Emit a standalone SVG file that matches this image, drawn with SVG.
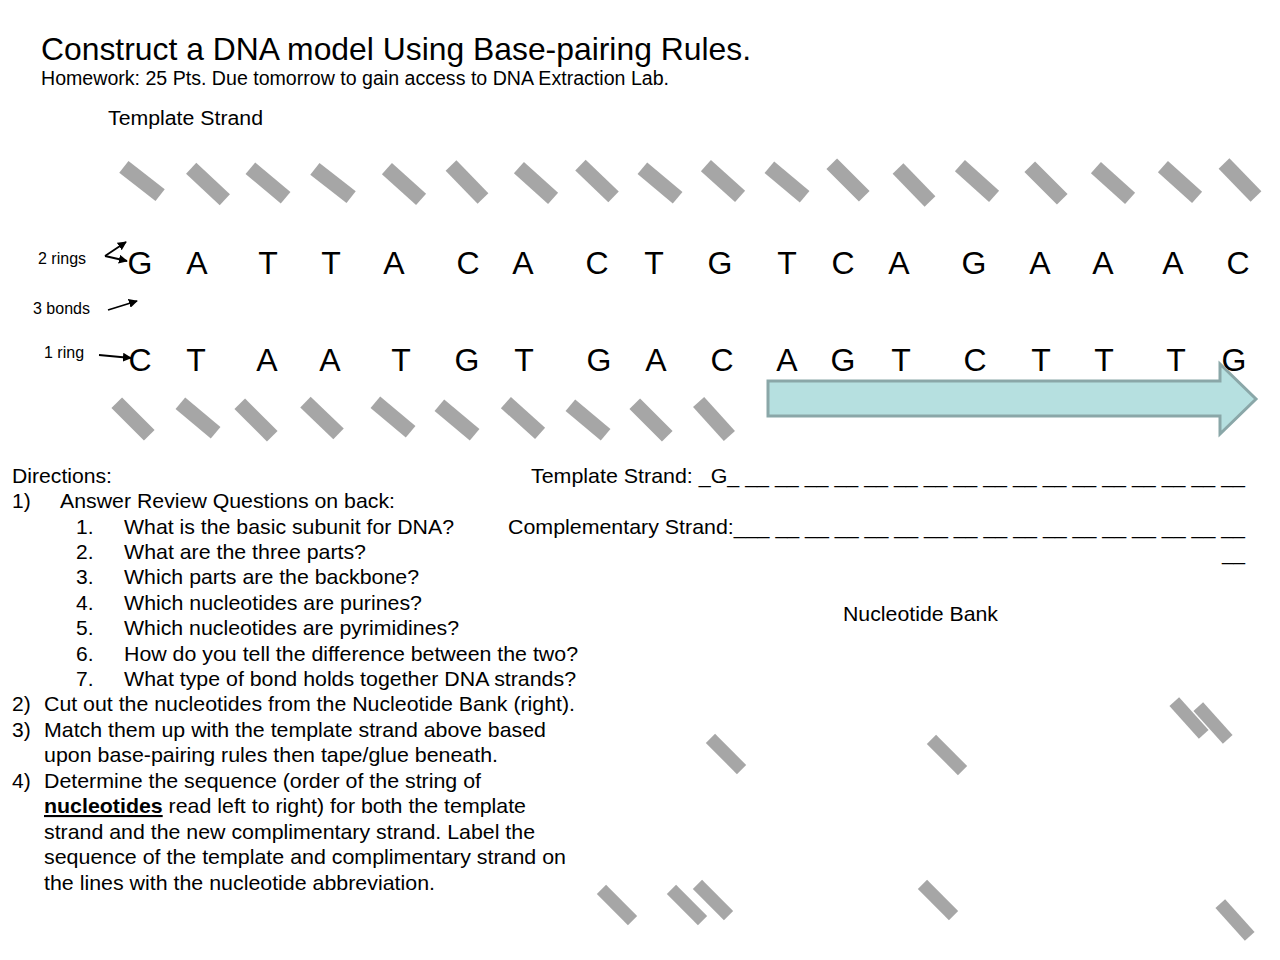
<svg xmlns="http://www.w3.org/2000/svg" width="1280" height="960" viewBox="0 0 1280 960">
<style>
text{font-family:"Liberation Sans",Arial,sans-serif;fill:#000}
.t{font-size:32px}
.s{font-size:20px}
.d{font-size:21px}
.b{font-size:32px}
.l{font-size:16px}
.bar{fill:#a6a6a6}
.ln{stroke:#000;stroke-width:1.8;fill:none}
</style>
<defs>
<rect id="bar" class="bar" x="-23" y="-7.5" width="46" height="15"/>
<rect id="bbar" class="bar" x="-22" y="-6.5" width="44" height="13"/>
<marker id="ah" viewBox="0 0 10 10" refX="9" refY="5" markerWidth="5" markerHeight="5" orient="auto" markerUnits="strokeWidth">
<path d="M0,0 L10,5 L0,10 Z" fill="#000"/>
</marker>
</defs>
<rect width="1280" height="960" fill="#fff"/>

<g id="title">
<text class="t" x="41" y="60" textLength="710" lengthAdjust="spacingAndGlyphs">Construct a DNA model Using Base-pairing Rules.</text>
<text class="s" x="41" y="85" textLength="628" lengthAdjust="spacingAndGlyphs">Homework: 25 Pts. Due tomorrow to gain access to DNA Extraction Lab.</text>
<text class="s" x="108" y="125" textLength="155" lengthAdjust="spacingAndGlyphs">Template Strand</text>
</g>

<g id="top-backbone">
<use href="#bar" transform="translate(142,181) rotate(38)"/>
<use href="#bar" transform="translate(208,184) rotate(43)"/>
<use href="#bar" transform="translate(268,183) rotate(40)"/>
<use href="#bar" transform="translate(333,183) rotate(38)"/>
<use href="#bar" transform="translate(404,184) rotate(42)"/>
<use href="#bar" transform="translate(467,182) rotate(46)"/>
<use href="#bar" transform="translate(536,183) rotate(42)"/>
<use href="#bar" transform="translate(597,181) rotate(44)"/>
<use href="#bar" transform="translate(660,183) rotate(40)"/>
<use href="#bar" transform="translate(723,181) rotate(42)"/>
<use href="#bar" transform="translate(787,182) rotate(40)"/>
<use href="#bar" transform="translate(848,180) rotate(45)"/>
<use href="#bar" transform="translate(914,185) rotate(46)"/>
<use href="#bar" transform="translate(977,181) rotate(42)"/>
<use href="#bar" transform="translate(1046,183) rotate(45)"/>
<use href="#bar" transform="translate(1113,183) rotate(42)"/>
<use href="#bar" transform="translate(1180,182) rotate(42)"/>
<use href="#bar" transform="translate(1240,180) rotate(46)"/>
</g>

<g id="template-bases" text-anchor="middle">
<text class="b" x="140" y="274">G</text>
<text class="b" x="197" y="274">A</text>
<text class="b" x="268" y="274">T</text>
<text class="b" x="331" y="274">T</text>
<text class="b" x="394" y="274">A</text>
<text class="b" x="468" y="274">C</text>
<text class="b" x="523" y="274">A</text>
<text class="b" x="597" y="274">C</text>
<text class="b" x="654" y="274">T</text>
<text class="b" x="720" y="274">G</text>
<text class="b" x="787" y="274">T</text>
<text class="b" x="843" y="274">C</text>
<text class="b" x="899" y="274">A</text>
<text class="b" x="974" y="274">G</text>
<text class="b" x="1040" y="274">A</text>
<text class="b" x="1103" y="274">A</text>
<text class="b" x="1173" y="274">A</text>
<text class="b" x="1238" y="274">C</text>
</g>

<g id="complement-bases" text-anchor="middle">
<text class="b" x="140" y="371">C</text>
<text class="b" x="196" y="371">T</text>
<text class="b" x="267" y="371">A</text>
<text class="b" x="330" y="371">A</text>
<text class="b" x="401" y="371">T</text>
<text class="b" x="467" y="371">G</text>
<text class="b" x="524" y="371">T</text>
<text class="b" x="599" y="371">G</text>
<text class="b" x="656" y="371">A</text>
<text class="b" x="722" y="371">C</text>
<text class="b" x="787" y="371">A</text>
<text class="b" x="843" y="371">G</text>
<text class="b" x="901" y="371">T</text>
<text class="b" x="975" y="371">C</text>
<text class="b" x="1041" y="371">T</text>
<text class="b" x="1104" y="371">T</text>
<text class="b" x="1176" y="371">T</text>
<text class="b" x="1234" y="371">G</text>
</g>

<g id="bottom-backbone">
<use href="#bar" transform="translate(133,419) rotate(45)"/>
<use href="#bar" transform="translate(198,418) rotate(40)"/>
<use href="#bar" transform="translate(256,420) rotate(45)"/>
<use href="#bar" transform="translate(322,418) rotate(44)"/>
<use href="#bar" transform="translate(393,417) rotate(40)"/>
<use href="#bar" transform="translate(457,420) rotate(40)"/>
<use href="#bar" transform="translate(523,418) rotate(42)"/>
<use href="#bar" transform="translate(588,420) rotate(40)"/>
<use href="#bar" transform="translate(651,420) rotate(45)"/>
<use href="#bar" transform="translate(714,419) rotate(48)"/>
</g>

<g id="direction-arrow">
<path d="M768,381 H1220 V364 L1256,399 L1220,434 V416 H768 Z" fill="#b6e0e0" stroke="#8aa7a8" stroke-width="3" stroke-linejoin="miter"/>
</g>

<g id="labels">
<text class="l" x="38" y="264">2 rings</text>
<text class="l" x="33" y="314">3 bonds</text>
<text class="l" x="44" y="358">1 ring</text>
</g>

<g id="connectors">
<path class="ln" d="M105,256 L126,242" marker-end="url(#ah)"/>
<path class="ln" d="M105,256 L127,261" marker-end="url(#ah)"/>
<path class="ln" d="M108,310 L137,301" marker-end="url(#ah)"/>
<path class="ln" d="M99,355 L131,358" marker-end="url(#ah)"/>
</g>

<g id="directions">
<text class="d" x="12" y="483" textLength="100" lengthAdjust="spacingAndGlyphs">Directions:</text>
<text class="d" x="12" y="508">1)</text>
<text class="d" x="60" y="508" textLength="335" lengthAdjust="spacingAndGlyphs">Answer Review Questions on back:</text>
<text class="d" x="76" y="534">1.</text>
<text class="d" x="124" y="534" textLength="330" lengthAdjust="spacingAndGlyphs">What is the basic subunit for DNA?</text>
<text class="d" x="76" y="559">2.</text>
<text class="d" x="124" y="559" textLength="242" lengthAdjust="spacingAndGlyphs">What are the three parts?</text>
<text class="d" x="76" y="584">3.</text>
<text class="d" x="124" y="584" textLength="295" lengthAdjust="spacingAndGlyphs">Which parts are the backbone?</text>
<text class="d" x="76" y="610">4.</text>
<text class="d" x="124" y="610" textLength="298" lengthAdjust="spacingAndGlyphs">Which nucleotides are purines?</text>
<text class="d" x="76" y="635">5.</text>
<text class="d" x="124" y="635" textLength="335" lengthAdjust="spacingAndGlyphs">Which nucleotides are pyrimidines?</text>
<text class="d" x="76" y="661">6.</text>
<text class="d" x="124" y="661" textLength="454" lengthAdjust="spacingAndGlyphs">How do you tell the difference between the two?</text>
<text class="d" x="76" y="686">7.</text>
<text class="d" x="124" y="686" textLength="452" lengthAdjust="spacingAndGlyphs">What type of bond holds together DNA strands?</text>
<text class="d" x="12" y="711">2)</text>
<text class="d" x="44" y="711" textLength="531" lengthAdjust="spacingAndGlyphs">Cut out the nucleotides from the Nucleotide Bank (right).</text>
<text class="d" x="12" y="737">3)</text>
<text class="d" x="44" y="737" textLength="502" lengthAdjust="spacingAndGlyphs">Match them up with the template strand above based</text>
<text class="d" x="44" y="762" textLength="454" lengthAdjust="spacingAndGlyphs">upon base-pairing rules then tape/glue beneath.</text>
<text class="d" x="12" y="788">4)</text>
<text class="d" x="44" y="788" textLength="437" lengthAdjust="spacingAndGlyphs">Determine the sequence (order of the string of</text>
<text class="d" x="44" y="813" textLength="482" lengthAdjust="spacingAndGlyphs"><tspan font-weight="bold" text-decoration="underline">nucleotides</tspan> read left to right) for both the template</text>
<text class="d" x="44" y="839" textLength="491" lengthAdjust="spacingAndGlyphs">strand and the new complimentary strand. Label the</text>
<text class="d" x="44" y="864" textLength="522" lengthAdjust="spacingAndGlyphs">sequence of the template and complimentary strand on</text>
<text class="d" x="44" y="890" textLength="391" lengthAdjust="spacingAndGlyphs">the lines with the nucleotide abbreviation.</text>
</g>

<g id="answer-lines">
<text class="d" x="531" y="483" textLength="714" lengthAdjust="spacingAndGlyphs">Template Strand: _G_ __ __ __ __ __ __ __ __ __ __ __ __ __ __ __ __ __</text>
<text class="d" x="508" y="534" textLength="737" lengthAdjust="spacingAndGlyphs">Complementary Strand:___ __ __ __ __ __ __ __ __ __ __ __ __ __ __ __ __</text>
<text class="d" x="1222" y="560" textLength="23" lengthAdjust="spacingAndGlyphs">__</text>
</g>

<g id="nucleotide-bank">
<text class="d" x="843" y="621" textLength="155" lengthAdjust="spacingAndGlyphs">Nucleotide Bank</text>
<use href="#bbar" transform="translate(726,754) rotate(45)"/>
<use href="#bbar" transform="translate(947,755) rotate(45)"/>
<use href="#bbar" transform="translate(1189,718) rotate(48)"/>
<use href="#bbar" transform="translate(1213,723) rotate(48)"/>
<use href="#bbar" transform="translate(617,905) rotate(45)"/>
<use href="#bbar" transform="translate(687,905) rotate(45)"/>
<use href="#bbar" transform="translate(713,900) rotate(45)"/>
<use href="#bbar" transform="translate(938,900) rotate(45)"/>
<use href="#bbar" transform="translate(1235,920) rotate(48)"/>
</g>
</svg>
